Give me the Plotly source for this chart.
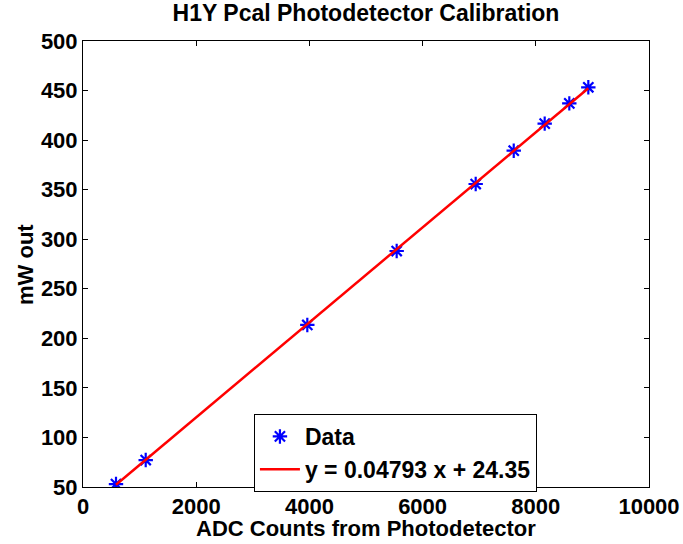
import numpy as np
import plotly.graph_objects as go

# measured calibration points (ADC counts vs mW out)
adc_counts = [583, 1108, 3963, 5542, 6938, 7610, 8157, 8592, 8928]
mw_out = [53.0, 77.2, 213.5, 288.1, 355.7, 389.3, 416.6, 437.1, 453.3]

# linear fit from the legend
slope = 0.04793
offset = 24.35
fit_label = "y = 0.04793 x + 24.35"

x_ticks = [0, 2000, 4000, 6000, 8000, 10000]
x_tick_text = ["0", "2000", "4000", "6000", "8000", "10000"]
y_ticks = [50, 100, 150, 200, 250, 300, 350, 400, 450, 500]

fit_x = np.array([min(adc_counts), max(adc_counts)])
fit_y = slope * fit_x + offset

fnt = "Liberation Sans, Arial, sans-serif"

fig = go.Figure()

fig.add_trace(go.Scatter(
    x=adc_counts, y=mw_out, name="Data", mode="markers",
    marker=dict(symbol="asterisk-open", size=12, color="#0000ff",
                line=dict(color="#0000ff", width=2.2)),
))

fig.add_trace(go.Scatter(
    x=fit_x, y=fit_y, name=fit_label, mode="lines",
    line=dict(color="#ff0000", width=2.5),
))

fig.update_layout(
    width=683, height=544, autosize=False,
    margin=dict(l=83, r=34, t=41, b=57),
    paper_bgcolor="white", plot_bgcolor="white",
    font=dict(family=fnt, size=22, color="black", weight="bold"),
    title=dict(text="H1Y Pcal Photodetector Calibration",
               font=dict(family=fnt, size=23, color="black", weight="bold"),
               x=0.5, xref="paper", xanchor="center",
               y=1 - 13 / 544, yref="container", yanchor="middle"),
    legend=dict(x=0.302, y=0.1637, xanchor="left", yanchor="top",
                bgcolor="white", bordercolor="black", borderwidth=1,
                itemwidth=40, tracegroupgap=0,
                font=dict(family=fnt, size=23, color="black", weight="bold")),
)

fig.update_xaxes(
    range=[0, 10000], tickvals=x_ticks, ticktext=x_tick_text,
    showline=True, linecolor="black", linewidth=1, mirror="allticks",
    ticks="inside", ticklen=5, tickcolor="black",
    showgrid=False, zeroline=False, automargin=False,
)

fig.update_yaxes(
    range=[50, 500], tickvals=y_ticks,
    showline=True, linecolor="black", linewidth=1, mirror="allticks",
    ticks="inside", ticklen=5, tickcolor="black",
    showgrid=False, zeroline=False, automargin=False,
)

# axis titles placed as annotations so they sit where the reference has them
fig.add_annotation(text="ADC Counts from Photodetector", xref="paper", yref="paper",
                   x=0.5, y=-0.092, xanchor="center", yanchor="middle",
                   showarrow=False, borderpad=0, font=dict(size=22))
fig.add_annotation(text="mW out", xref="paper", yref="paper",
                   x=-0.1025, y=0.5, xanchor="center", yanchor="middle",
                   textangle=-90, showarrow=False, font=dict(size=22))

# drop the default 8px body margin so the figure fills the window
fig.write_html("out.html", config={"displayModeBar": False},
               post_script="document.body.style.margin='0';")
